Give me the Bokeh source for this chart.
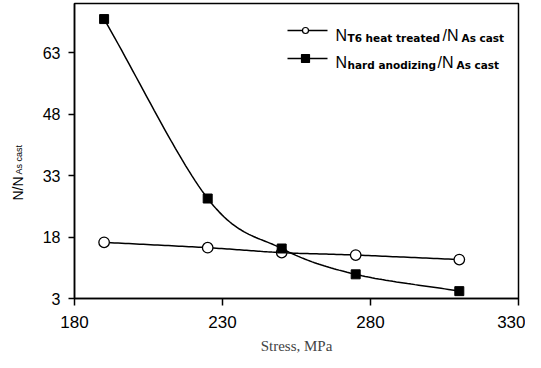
import numpy as np
from bokeh.plotting import figure
from bokeh.layouts import row
from bokeh.models import Range1d, FixedTicker, Label
from bokeh.core.properties import value
from bokeh.embed import file_html
from bokeh.resources import INLINE

# ---- data ----
stress = [190, 225, 250, 275, 310]
t6_ratio = [16.7, 15.4, 14.2, 13.6, 12.5]
anod_ratio = [71.2, 27.4, 15.2, 8.9, 4.8]
x_ticks = [180, 230, 280, 330]
y_ticks = [3, 18, 33, 48, 63]
X0, X1 = 180, 330
Y0, Y1 = 3, 75

FW, FH = 444, 295  # frame size in px
H = 352

def smooth(xs, ys, n=30):
    # Catmull-Rom spline through the data points, computed in pixel space
    px = (np.asarray(xs, float) - X0) / (X1 - X0) * FW
    py = (np.asarray(ys, float) - Y0) / (Y1 - Y0) * FH
    P = np.column_stack([px, py])
    P = np.vstack([2 * P[0] - P[1], P, 2 * P[-1] - P[-2]])
    out = []
    for i in range(1, len(P) - 2):
        p0, p1, p2, p3 = P[i - 1], P[i], P[i + 1], P[i + 2]
        t = np.linspace(0, 1, n, endpoint=(i == len(P) - 3))[:, None]
        seg = 0.5 * ((2 * p1) + (-p0 + p2) * t + (2 * p0 - 5 * p1 + 4 * p2 - p3) * t ** 2
                     + (-p0 + 3 * p1 - 3 * p2 + p3) * t ** 3)
        out.append(seg)
    S = np.vstack(out)
    return X0 + S[:, 0] / FW * (X1 - X0), Y0 + S[:, 1] / FH * (Y1 - Y0)

def px2x(dx):
    return X0 + dx / FW * (X1 - X0)

def px2y(dy_from_top):
    return Y1 - dy_from_top / FH * (Y1 - Y0)

p = figure(frame_width=FW, frame_height=FH, output_backend="svg", toolbar_location=None,
           x_range=Range1d(X0, X1), y_range=Range1d(Y0, Y1),
           min_border_left=44, min_border_right=7, min_border_top=3, min_border_bottom=54)
p.background_fill_color = "white"
p.border_fill_color = "white"
p.outline_line_color = "black"
p.outline_line_width = 1.5
p.grid.visible = False

for ax in (p.xaxis[0], p.yaxis[0]):
    ax.axis_line_color = "black"
    ax.axis_line_width = 1.5
    ax.major_tick_line_color = "black"
    ax.major_tick_line_width = 1.5
    ax.minor_tick_line_color = None
    ax.major_tick_in = 0
    ax.major_label_text_font = "Liberation Sans"
    ax.major_label_text_color = "black"

p.xaxis.ticker = FixedTicker(ticks=x_ticks)
p.yaxis.ticker = FixedTicker(ticks=y_ticks)
p.xaxis.major_tick_out = 7
p.yaxis.major_tick_out = 6
p.xaxis.major_label_text_font_size = "17px"
p.yaxis.major_label_text_font_size = "16px"
p.xaxis.major_label_standoff = 10
p.yaxis.major_label_standoff = 8
p.xaxis.axis_label = "Stress, MPa"
p.xaxis.axis_label_text_font = "Liberation Serif"
p.xaxis.axis_label_text_font_style = "normal"
p.xaxis.axis_label_text_font_size = "15px"
p.xaxis.axis_label_standoff = 7

# ---- series ----
sx, sy = smooth(stress, t6_ratio)
p.line(sx, sy, line_color="black", line_width=1.5)
ax_, ay_ = smooth(stress, anod_ratio)
p.line(ax_, ay_, line_color="black", line_width=1.5)
p.scatter(stress, t6_ratio, marker="circle", size=10.5, fill_color="white",
          line_color="black", line_width=1.3)
p.scatter(stress, anod_ratio, marker="square", size=9, fill_color="black",
          line_color="black")

def lab(text, xo, yo, size, style="normal", font="Liberation Sans"):
    p.add_layout(Label(x=X0, y=Y1, x_offset=xo, y_offset=-yo, text=text,
                       text_font=font, text_font_size=size, text_font_style=style,
                       text_color="black", text_baseline="alphabetic",
                       text_align="left"))

# ---- legend (drawn by hand to allow subscripts) ----
rows = [
    ("circle", 6, "T6 heat treated", 27, 32, 368, 387),
    ("square", 8, "hard anodizing", 55, 59, 363, 382),
]
for marker, msize, sub, yline, ybase, xslash, xas in rows:
    p.line([px2x(213), px2x(253)], [px2y(yline)] * 2, line_color="black", line_width=1.5)
    p.scatter([px2x(231)], [px2y(yline)], marker=marker, size=msize,
              fill_color="white" if marker == "circle" else "black",
              line_color="black", line_width=1.2)
    lab("N", 261, ybase, "16px")
    lab(sub, 273, ybase + 2, "10.5px", style="bold", font="DejaVu Sans")
    lab("/N", xslash, ybase, "16px")
    lab("As cast", xas, ybase + 2, "10.5px", style="bold", font="DejaVu Sans")

# ---- y-axis title (separate narrow panel so the subscript can be drawn) ----
LW = 30
yl = figure(frame_width=LW, frame_height=H, output_backend="svg", toolbar_location=None,
            x_range=Range1d(0, LW), y_range=Range1d(0, H), min_border=0,
            x_axis_type=None, y_axis_type=None)
yl.outline_line_color = None
yl.grid.visible = False
yl.background_fill_color = "white"
yl.border_fill_color = "white"
yl.text(x=[17], y=[H - 197], text=["N/N"], angle=np.pi / 2,
        text_font=value("Liberation Sans"), text_font_size="14px",
        text_baseline="alphabetic", text_align="left", text_color="black")
yl.text(x=[18], y=[H - 171], text=["As cast"], angle=np.pi / 2,
        text_font=value("Liberation Sans"), text_font_size="9px",
        text_baseline="alphabetic", text_align="left", text_color="black")

layout = row(yl, p, spacing=0)
open("out.html", "w").write(file_html(layout, INLINE))
